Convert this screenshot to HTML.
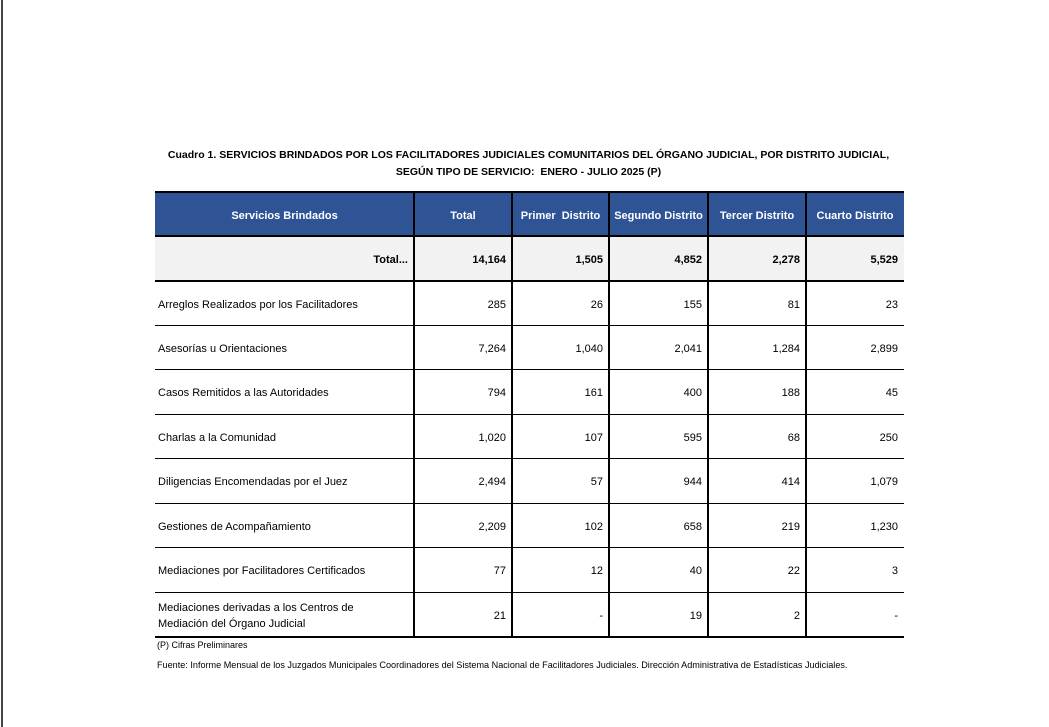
<!DOCTYPE html>
<html><head><meta charset="utf-8"><style>
body{margin:0;width:1049px;height:727px;background:#fff;position:relative;overflow:hidden;font-family:"Liberation Sans",sans-serif;color:#000}
.lb{position:absolute;left:1px;top:0;width:2px;height:727px;background:#444}
.t{position:absolute;left:0;width:1049px;text-align:center;font-weight:bold;font-size:10.5px;white-space:nowrap}
.a{position:absolute;white-space:nowrap;font-size:11px;transform:translateY(2px)}
.h{position:absolute;top:192px;height:44px;background:#2f5496;}
.v{position:absolute;background:#000;width:2px}
.hl{position:absolute;left:155px;width:749px;background:#000}
.ht{position:absolute;top:210px;color:#fff;font-weight:bold;font-size:11px;text-align:center}
.n{position:absolute;font-size:11px;text-align:right;transform:translateY(2px)}
</style></head><body>
<div class="lb"></div>
<div class="t" style="top:149px;left:4px">Cuadro 1. SERVICIOS BRINDADOS POR LOS FACILITADORES JUDICIALES COMUNITARIOS DEL ÓRGANO JUDICIAL, POR DISTRITO JUDICIAL,</div>
<div class="t" style="top:166px;left:4px">SEGÚN TIPO DE SERVICIO:&nbsp; ENERO - JULIO 2025 (P)</div>
<div class="h" style="left:155px;width:749px"></div>
<div style="position:absolute;left:155px;top:236px;width:749px;height:45px;background:#f2f2f2"></div>
<div class="hl" style="top:191px;height:2px"></div>
<div class="hl" style="top:235px;height:2px"></div>
<div class="hl" style="top:280px;height:2px"></div>
<div class="hl" style="top:325px;height:1px"></div>
<div class="hl" style="top:369px;height:1px"></div>
<div class="hl" style="top:414px;height:1px"></div>
<div class="hl" style="top:458px;height:1px"></div>
<div class="hl" style="top:503px;height:1px"></div>
<div class="hl" style="top:547px;height:1px"></div>
<div class="hl" style="top:592px;height:1px"></div>
<div class="hl" style="top:636px;height:2px"></div>
<div class="v" style="left:413px;top:192px;height:445px"></div>
<div class="v" style="left:511px;top:192px;height:445px"></div>
<div class="v" style="left:608px;top:192px;height:445px"></div>
<div class="v" style="left:707px;top:192px;height:445px"></div>
<div class="v" style="left:805px;top:192px;height:445px"></div>
<div class="ht" style="left:155px;width:259px">Servicios Brindados</div>
<div class="ht" style="left:414px;width:98px">Total</div>
<div class="ht" style="left:512px;width:97px">Primer&nbsp; Distrito</div>
<div class="ht" style="left:609px;width:99px">Segundo Distrito</div>
<div class="ht" style="left:708px;width:98px">Tercer Distrito</div>
<div class="ht" style="left:806px;width:98px">Cuarto Distrito</div>
<div class="a" style="left:157px;top:638px;font-size:9px">(P) Cifras Preliminares</div>
<div class="a" style="left:157px;top:658px;font-size:9.1px">Fuente: Informe Mensual de los Juzgados Municipales Coordinadores del Sistema Nacional de Facilitadores Judiciales. Dirección Administrativa de Estadísticas Judiciales.</div>
<div class="n" style="left:300px;width:108px;top:252px;font-weight:bold">Total...</div>
<div class="n" style="left:414px;width:92px;top:252px;font-weight:bold">14,164</div>
<div class="n" style="left:512px;width:91px;top:252px;font-weight:bold">1,505</div>
<div class="n" style="left:609px;width:93px;top:252px;font-weight:bold">4,852</div>
<div class="n" style="left:708px;width:92px;top:252px;font-weight:bold">2,278</div>
<div class="n" style="left:806px;width:92px;top:252px;font-weight:bold">5,529</div>

<div class="a" style="left:158px;top:297px">Arreglos Realizados por los Facilitadores</div>
<div class="n" style="left:414px;width:92px;top:297px">285</div><div class="n" style="left:512px;width:91px;top:297px">26</div><div class="n" style="left:609px;width:93px;top:297px">155</div><div class="n" style="left:708px;width:92px;top:297px">81</div><div class="n" style="left:806px;width:92px;top:297px">23</div>

<div class="a" style="left:158px;top:341px">Asesorías u Orientaciones</div>
<div class="n" style="left:414px;width:92px;top:341px">7,264</div><div class="n" style="left:512px;width:91px;top:341px">1,040</div><div class="n" style="left:609px;width:93px;top:341px">2,041</div><div class="n" style="left:708px;width:92px;top:341px">1,284</div><div class="n" style="left:806px;width:92px;top:341px">2,899</div>

<div class="a" style="left:158px;top:385px">Casos Remitidos a las Autoridades</div>
<div class="n" style="left:414px;width:92px;top:385px">794</div><div class="n" style="left:512px;width:91px;top:385px">161</div><div class="n" style="left:609px;width:93px;top:385px">400</div><div class="n" style="left:708px;width:92px;top:385px">188</div><div class="n" style="left:806px;width:92px;top:385px">45</div>

<div class="a" style="left:158px;top:430px">Charlas a la Comunidad</div>
<div class="n" style="left:414px;width:92px;top:430px">1,020</div><div class="n" style="left:512px;width:91px;top:430px">107</div><div class="n" style="left:609px;width:93px;top:430px">595</div><div class="n" style="left:708px;width:92px;top:430px">68</div><div class="n" style="left:806px;width:92px;top:430px">250</div>

<div class="a" style="left:158px;top:474px">Diligencias Encomendadas por el Juez</div>
<div class="n" style="left:414px;width:92px;top:474px">2,494</div><div class="n" style="left:512px;width:91px;top:474px">57</div><div class="n" style="left:609px;width:93px;top:474px">944</div><div class="n" style="left:708px;width:92px;top:474px">414</div><div class="n" style="left:806px;width:92px;top:474px">1,079</div>

<div class="a" style="left:158px;top:519px">Gestiones de Acompañamiento</div>
<div class="n" style="left:414px;width:92px;top:519px">2,209</div><div class="n" style="left:512px;width:91px;top:519px">102</div><div class="n" style="left:609px;width:93px;top:519px">658</div><div class="n" style="left:708px;width:92px;top:519px">219</div><div class="n" style="left:806px;width:92px;top:519px">1,230</div>

<div class="a" style="left:158px;top:563px">Mediaciones por Facilitadores Certificados</div>
<div class="n" style="left:414px;width:92px;top:563px">77</div><div class="n" style="left:512px;width:91px;top:563px">12</div><div class="n" style="left:609px;width:93px;top:563px">40</div><div class="n" style="left:708px;width:92px;top:563px">22</div><div class="n" style="left:806px;width:92px;top:563px">3</div>

<div class="a" style="left:158px;top:600px">Mediaciones derivadas a los Centros de</div>
<div class="a" style="left:158px;top:616px">Mediación del Órgano Judicial</div>
<div class="n" style="left:414px;width:92px;top:608px">21</div><div class="n" style="left:512px;width:91px;top:608px">-</div><div class="n" style="left:609px;width:93px;top:608px">19</div><div class="n" style="left:708px;width:92px;top:608px">2</div><div class="n" style="left:806px;width:92px;top:608px">-</div>
</body></html>
